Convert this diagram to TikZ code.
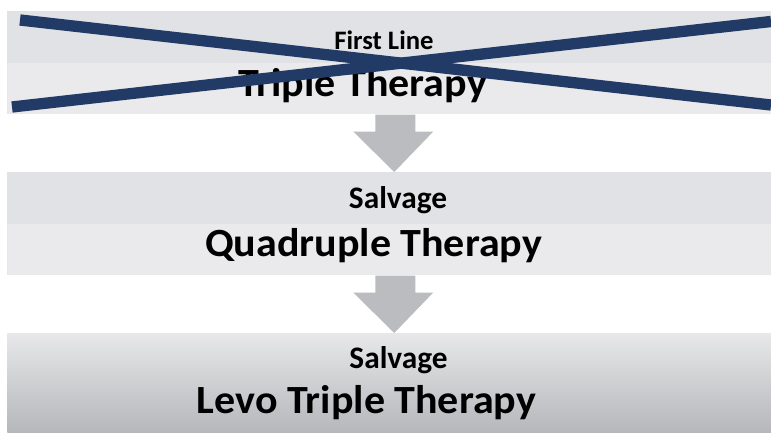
\documentclass[tikz,border=0pt]{standalone}
\usepackage{fontspec}
\setmainfont{Carlito}
\newfontfamily\widefont[FakeStretch=1.05]{Carlito}
\usetikzlibrary{calc}
\definecolor{navy}{HTML}{213A66}
\definecolor{arrowgray}{HTML}{BBBCBF}
\definecolor{boxtop}{HTML}{E1E2E5}
\definecolor{boxbot}{HTML}{EAEAEC}
\definecolor{boxdark}{HTML}{B5B7BA}
\tikzset{
  px/.style={x=0.75pt,y=-0.75pt},
  box/.style={minimum width=573pt,minimum height=77.25pt,inner sep=0pt,
    fill=boxtop,
    path picture={\fill[boxbot] (path picture bounding box.west) rectangle (path picture bounding box.south east);}},
  lastbox/.style={minimum width=573pt,minimum height=74.25pt,inner sep=0pt,
    shade,top color=boxtop!80!white,bottom color=boxdark},
  small/.style={font=\bfseries\fontsize{23.5}{27}\selectfont,inner sep=0pt,anchor=base},
  smaller/.style={font=\bfseries\fontsize{20}{24}\selectfont,inner sep=0pt,anchor=base},
  big/.style={font=\widefont\bfseries\fontsize{30}{34}\selectfont,inner sep=0pt,anchor=base},
  blockarrow/.style={fill=arrowgray},
  cross/.style={draw=navy,line width=8.5pt}
}
\begin{document}
\begin{tikzpicture}[px]
\useasboundingbox (0,0) rectangle (771,432);
\fill[white] (0,0) rectangle (771,432);
% boxes
\node[box,anchor=north west] (b1) at (7,11) {};
\node[box,anchor=north west] (b2) at (7,172) {};
\node[lastbox,anchor=north west] (b3) at (7,333) {};
% arrows (b1.south is at x=389)
\fill[blockarrow] ($(b1.south)+(-14,0)$) -- ($(b1.south)+(26,0)$) -- ($(b1.south)+(26,17)$)
   -- ($(b1.south)+(44,17)$) -- ($(b2.north)+(5,0)$) -- ($(b1.south)+(-36,17)$)
   -- ($(b1.south)+(-14,17)$) -- cycle;
\fill[blockarrow] ($(b2.south)+(-14,0)$) -- ($(b2.south)+(26,0)$) -- ($(b2.south)+(26,17)$)
   -- ($(b2.south)+(44,17)$) -- ($(b3.north)+(5,0)$) -- ($(b2.south)+(-36,17)$)
   -- ($(b2.south)+(-14,17)$) -- cycle;
% texts
\node[smaller] (t1a) at (384,49) {First Line};
\node[big] (t1b) at (362.5,96) {Triple Therapy};
\node[small] (t2a) at (398,208) {Salvage};
\node[big] (t2b) at (373.5,256) {Quadruple Therapy};
\node[small] (t3a) at (398.5,368) {Salvage};
\node[big] (t3b) at (366.5,413.5) {Levo Triple Therapy};
% cross
\coordinate (c1) at (20,20);
\coordinate (c2) at (771,105);
\coordinate (c3) at (12,107);
\coordinate (c4) at (771,21.5);
\draw[cross] (c1) -- (c2);
\draw[cross] (c3) -- (c4);
\end{tikzpicture}
\end{document}
